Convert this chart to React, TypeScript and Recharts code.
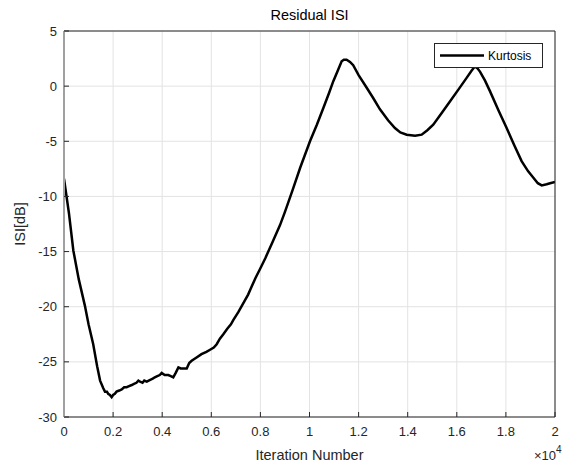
import React from "react";
import { LineChart, Line, XAxis, YAxis, CartesianGrid } from "recharts";

const iterations = [
  0, 200, 380, 600, 850, 1000, 1190, 1350, 1470, 1600, 1670, 1750, 1800, 1870, 1940, 2000,
  2070, 2140, 2250, 2350, 2450, 2550, 2650, 2760, 2850, 2950, 3030, 3100, 3200, 3270, 3370,
  3450, 3550, 3630, 3700, 3800, 3900, 3980, 4100, 4250, 4350, 4450, 4550, 4660, 4750, 4900,
  5000, 5100, 5200, 5400, 5600, 5800, 5950, 6100, 6220, 6350, 6490, 6650, 6800, 6900, 7100,
  7300, 7500, 7640, 7800, 7980, 8200, 8500, 8800, 9000, 9300, 9620, 10020, 10300, 10560,
  10800, 10970, 11150, 11310, 11400, 11510, 11650, 11780, 12000, 12330, 12600, 12870, 13200,
  13480, 13700, 13960, 14300, 14570, 14800, 15040, 15400, 15720, 16100, 16400, 16600, 16740,
  16850, 16950, 17150, 17350, 17700, 18030, 18350, 18640, 18900, 19120, 19300, 19460, 19660,
  19800, 20000,
];
const kurtosis = [
  -8.4, -11.5, -14.9, -17.5, -19.9, -21.6, -23.4, -25.4, -26.7, -27.4, -27.7, -27.7, -27.9,
  -28.0, -28.2, -28.0, -27.9, -27.7, -27.6, -27.5, -27.3, -27.3, -27.2, -27.1, -27.0, -26.9,
  -26.7, -26.8, -26.9, -26.7, -26.8, -26.7, -26.6, -26.5, -26.4, -26.3, -26.2, -26.0, -26.2,
  -26.2, -26.3, -26.4, -26.0, -25.5, -25.6, -25.6, -25.6, -25.1, -24.9, -24.6, -24.3, -24.1,
  -23.9, -23.7, -23.4, -22.9, -22.5, -22.0, -21.6, -21.2, -20.5, -19.7, -18.9, -18.2, -17.4,
  -16.6, -15.6, -14.1, -12.6, -11.4, -9.5, -7.4, -5.0, -3.5, -2.0, -0.6, 0.45, 1.4, 2.26, 2.4,
  2.4, 2.2, 1.9, 1.0, -0.15, -1.1, -2.1, -3.1, -3.8, -4.2, -4.4, -4.5, -4.4, -4.0, -3.5, -2.4,
  -1.4, -0.2, 0.75, 1.4, 1.8, 1.6, 1.3, 0.5, -0.45, -2.2, -3.8, -5.4, -6.8, -7.7, -8.3, -8.8,
  -9.0, -8.9, -8.8, -8.7,
];
const xTicks = [0, 2000, 4000, 6000, 8000, 10000, 12000, 14000, 16000, 18000, 20000];
const yTicks = [-30, -25, -20, -15, -10, -5, 0, 5];
const seriesName = "Kurtosis";
const title = "Residual ISI";
const xLabel = "Iteration Number";
const yLabel = "ISI[dB]";

const data = iterations.map((it, i) => ({ it, v: kurtosis[i] }));

const FONT = "Arial, 'Liberation Sans', Helvetica, sans-serif";
const AX = "#262626";

export default function App() {
  return (
    <div style={{ position: "absolute", left: 0, top: 0, width: 563, height: 463, background: "#fff" }}>
      <LineChart
        width={563}
        height={463}
        data={data}
        margin={{ top: 30, right: 7, bottom: 0, left: 0 }}
      >
        <CartesianGrid stroke="#e3e3e3" strokeWidth={1} horizontal vertical />
        <XAxis
          dataKey="it"
          type="number"
          domain={[0, 20000]}
          ticks={xTicks}
          tickFormatter={(v: number) => String(v / 10000)}
          height={46}
          tickSize={-5}
          tickMargin={15}
          axisLine={{ stroke: AX }}
          tickLine={{ stroke: AX }}
          tick={{ fill: AX, fontSize: 13, fontFamily: FONT }}
          interval={0}
          allowDataOverflow
        />
        <XAxis
          xAxisId="top"
          orientation="top"
          dataKey="it"
          type="number"
          domain={[0, 20000]}
          ticks={xTicks}
          height={1}
          tickSize={-5}
          tick={false}
          axisLine={{ stroke: AX }}
          tickLine={{ stroke: AX }}
          interval={0}
        />
        <YAxis
          type="number"
          domain={[-30, 5]}
          ticks={yTicks}
          width={64}
          tickSize={-5}
          tickMargin={12}
          axisLine={{ stroke: "#a0a0a0", strokeWidth: 2 }}
          tickLine={{ stroke: AX }}
          tick={{ fill: AX, fontSize: 13, fontFamily: FONT }}
          interval={0}
          allowDataOverflow
        />
        <YAxis
          yAxisId="right"
          orientation="right"
          type="number"
          domain={[-30, 5]}
          ticks={yTicks}
          width={1}
          tickSize={-5}
          tick={false}
          axisLine={{ stroke: AX }}
          tickLine={{ stroke: AX }}
          interval={0}
        />
        <Line
          type="linear"
          dataKey="v"
          name={seriesName}
          stroke="#000"
          strokeWidth={2.5}
          dot={false}
          activeDot={false}
          isAnimationActive={false}
        />
      </LineChart>
      <svg
        width={563}
        height={463}
        style={{ position: "absolute", left: 0, top: 0, pointerEvents: "none" }}
      >
        <g transform="translate(434,43)">
          <rect x={0.5} y={0.5} width={108} height={24} fill="#fff" stroke="#262626" strokeWidth={1} />
          <line x1={6} y1={12.5} x2={50} y2={12.5} stroke="#000" strokeWidth={2.5} />
          <text x={54} y={17} fontFamily={FONT} fontSize={12} fill="#000">{seriesName}</text>
        </g>
        <text x={309.5} y={20} textAnchor="middle" fontFamily={FONT} fontSize={14.5} fill="#000">
          {title}
        </text>
        <text x={309.5} y={460} textAnchor="middle" fontFamily={FONT} fontSize={14.5} fill={AX}>
          {xLabel}
        </text>
        <text
          x={0}
          y={0}
          transform="translate(25,224) rotate(-90)"
          textAnchor="middle"
          fontFamily={FONT}
          fontSize={14.5}
          fill={AX}
        >
          {yLabel}
        </text>
        <text x={534} y={460} fontFamily={FONT} fontSize={13} fill={AX}>
          ×10
          <tspan dy={-7} fontSize={10}>4</tspan>
        </text>
      </svg>
    </div>
  );
}
